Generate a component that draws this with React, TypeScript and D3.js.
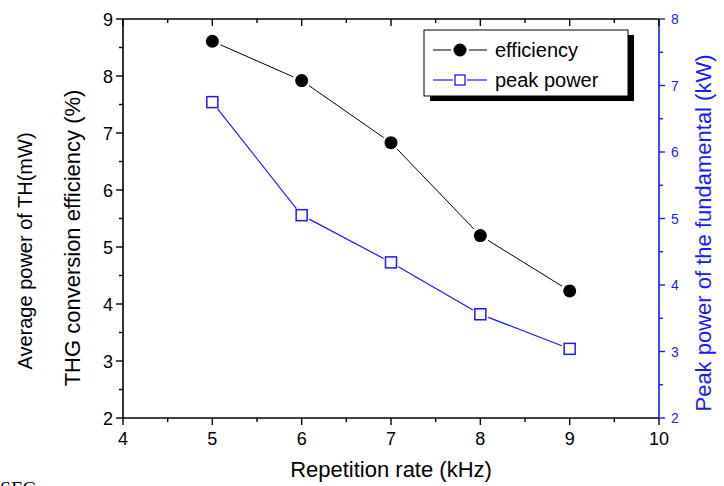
import React from "react";
import * as d3 from "d3";

const repRate = [5, 6, 7, 8, 9];
const efficiency = [8.61, 7.92, 6.83, 5.2, 4.23];
const peakPower = [6.75, 5.05, 4.34, 3.56, 3.04];
const xTicks = [4, 5, 6, 7, 8, 9, 10];
const yLeftTicks = [2, 3, 4, 5, 6, 7, 8, 9];
const yRightTicks = [2, 3, 4, 5, 6, 7, 8];

const W = 724;
const H = 486;
const L = 123, R = 659, T = 19, B = 418;
const BLUE = "#1a1aff";
const FONT = "Liberation Sans, Arial, sans-serif";

function gappedSegments(pts: [number, number][], gap: number) {
  const segs: [number, number, number, number][] = [];
  for (let i = 0; i < pts.length - 1; i++) {
    const [x1, y1] = pts[i];
    const [x2, y2] = pts[i + 1];
    const dx = x2 - x1, dy = y2 - y1;
    const len = Math.hypot(dx, dy);
    const ux = dx / len, uy = dy / len;
    segs.push([x1 + ux * gap, y1 + uy * gap, x2 - ux * gap, y2 - uy * gap]);
  }
  return segs;
}

export default function App() {
  const x = d3.scaleLinear().domain([4, 10]).range([L, R]);
  const yL = d3.scaleLinear().domain([2, 9]).range([B, T]);
  const yR = d3.scaleLinear().domain([2, 8]).range([B, T]);

  const xMinor = d3.range(4.5, 10, 1);
  const yLMinor = d3.range(2.5, 9, 1);
  const yRMinor = d3.range(2.5, 8, 1);

  const effPts = repRate.map((r, i) => [x(r), yL(efficiency[i])] as [number, number]);
  const ppPts = repRate.map((r, i) => [x(r), yR(peakPower[i])] as [number, number]);

  const lx = 424, ly = 30, lw = 204, lh = 66;

  return (
    <svg width={W} height={H} style={{ position: "absolute", left: 0, top: 0, background: "#fff" }}>
      <rect x={0} y={0} width={W} height={H} fill="#fff" />
      {/* frame */}
      <line x1={L} y1={T} x2={R} y2={T} stroke="#000" strokeWidth={1.6} />
      <line x1={L} y1={B} x2={R} y2={B} stroke="#000" strokeWidth={1.6} />
      <line x1={L} y1={T} x2={L} y2={B} stroke="#000" strokeWidth={1.6} />
      <line x1={R} y1={T} x2={R} y2={B} stroke={BLUE} strokeWidth={1.6} />

      {/* bottom ticks */}
      {xTicks.map((t) => (
        <g key={"xb" + t}>
          <line x1={x(t)} x2={x(t)} y1={B} y2={B + 7} stroke="#000" strokeWidth={1.4} />
          <text x={x(t)} y={B + 27} fontSize={18} fontFamily={FONT} textAnchor="middle" fill="#000">{t}</text>
        </g>
      ))}
      {xMinor.map((t) => (
        <line key={"xbm" + t} x1={x(t)} x2={x(t)} y1={B} y2={B + 4} stroke="#000" strokeWidth={1.4} />
      ))}
      {/* top ticks (inward) */}
      {xTicks.map((t) => (
        <line key={"xt" + t} x1={x(t)} x2={x(t)} y1={T} y2={T + 7} stroke="#000" strokeWidth={1.4} />
      ))}
      {xMinor.map((t) => (
        <line key={"xtm" + t} x1={x(t)} x2={x(t)} y1={T} y2={T + 4} stroke="#000" strokeWidth={1.4} />
      ))}

      {/* left axis */}
      {yLeftTicks.map((t) => (
        <g key={"yl" + t}>
          <line x1={L - 7} x2={L} y1={yL(t)} y2={yL(t)} stroke="#000" strokeWidth={1.4} />
          <text x={L - 10} y={yL(t) + 6.5} fontSize={18} fontFamily={FONT} textAnchor="end" fill="#000">{t}</text>
        </g>
      ))}
      {yLMinor.map((t) => (
        <line key={"ylm" + t} x1={L - 4} x2={L} y1={yL(t)} y2={yL(t)} stroke="#000" strokeWidth={1.4} />
      ))}

      {/* right axis */}
      {yRightTicks.map((t) => (
        <g key={"yr" + t}>
          <line x1={R} x2={R + 6} y1={yR(t)} y2={yR(t)} stroke={BLUE} strokeWidth={1.4} />
          <text x={R + 12} y={yR(t) + 5} fontSize={14} fontFamily={FONT} textAnchor="start" fill={BLUE}>{t}</text>
        </g>
      ))}
      {yRMinor.map((t) => (
        <line key={"yrm" + t} x1={R} x2={R + 4} y1={yR(t)} y2={yR(t)} stroke={BLUE} strokeWidth={1.4} />
      ))}

      {/* axis titles */}
      <text x={391} y={477} fontSize={22} fontFamily={FONT} textAnchor="middle" fill="#000">Repetition rate (kHz)</text>
      <text transform="translate(80,238) rotate(-90)" fontSize={22} fontFamily={FONT} textAnchor="middle" fill="#000">THG conversion efficiency (%)</text>
      <text transform="translate(32,251) rotate(-90)" fontSize={20} fontFamily={FONT} textAnchor="middle" fill="#000">Average power of TH(mW)</text>
      <text transform="translate(711,233) rotate(-90)" fontSize={22} fontFamily={FONT} textAnchor="middle" fill={BLUE}>Peak power of the fundamental (kW)</text>

      {/* efficiency series */}
      {gappedSegments(effPts, 9).map((s, i) => (
        <line key={"es" + i} x1={s[0]} y1={s[1]} x2={s[2]} y2={s[3]} stroke="#000" strokeWidth={1} />
      ))}
      {effPts.map((p, i) => (
        <circle key={"ec" + i} cx={p[0]} cy={p[1]} r={6.5} fill="#000" />
      ))}

      {/* peak power series */}
      {gappedSegments(ppPts, 8.5).map((s, i) => (
        <line key={"ps" + i} x1={s[0]} y1={s[1]} x2={s[2]} y2={s[3]} stroke={BLUE} strokeWidth={1.2} />
      ))}
      {ppPts.map((p, i) => (
        <rect key={"pr" + i} x={p[0] - 5.5} y={p[1] - 5.5} width={11} height={11} fill="#fff" stroke={BLUE} strokeWidth={1.5} />
      ))}

      {/* legend */}
      <rect x={lx + 6} y={ly + 5} width={lw} height={lh} fill="#000" />
      <rect x={lx} y={ly} width={lw} height={lh} fill="#fff" stroke="#000" strokeWidth={1} />
      <line x1={433} x2={451} y1={50} y2={50} stroke="#000" strokeWidth={1} />
      <line x1={469} x2={487} y1={50} y2={50} stroke="#000" strokeWidth={1} />
      <circle cx={460} cy={50} r={6.5} fill="#000" />
      <text x={495} y={57} fontSize={20} fontFamily={FONT} fill="#000">efficiency</text>
      <line x1={433} x2={453} y1={80} y2={80} stroke={BLUE} strokeWidth={1.2} />
      <line x1={467} x2={487} y1={80} y2={80} stroke={BLUE} strokeWidth={1.2} />
      <rect x={455} y={75} width={10} height={10} fill="#fff" stroke={BLUE} strokeWidth={1.3} />
      <text x={495} y={87} fontSize={20} fontFamily={FONT} fill="#000">peak power</text>

      {/* cut-off caption fragment */}
      <text x={0} y={496} fontSize={20} fontFamily="Liberation Serif, Times New Roman, serif" fill="#000">SFG</text>
    </svg>
  );
}
